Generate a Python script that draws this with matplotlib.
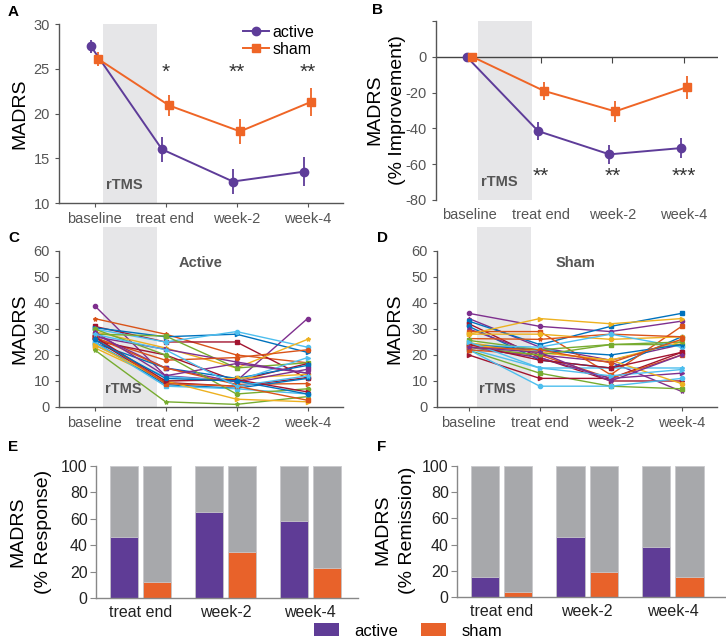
import matplotlib
matplotlib.use("Agg")
import matplotlib.pyplot as plt
from matplotlib.patches import Patch
from matplotlib.lines import Line2D
import numpy as np

plt.rcParams['font.family'] = ['Liberation Sans', 'DejaVu Sans']

# ---------------- data ----------------
timepoints = ["baseline", "treat end", "week-2", "week-4"]

active_mean = [27.5, 16.0, 12.4, 13.5]
active_err = [0.7, 1.4, 1.4, 1.6]
sham_mean = [26.1, 20.9, 18.0, 21.3]
sham_err = [0.8, 1.2, 1.4, 1.6]
stars_A = ["", "*", "**", "**"]

active_pct = [0, -41.5, -54.5, -51.0]
active_pct_err = [0, 5.0, 5.5, 5.5]
sham_pct = [0, -19.0, -30.5, -17.0]
sham_pct_err = [0, 5.0, 6.0, 6.5]
stars_B = ["", "**", "**", "***"]

active_subjects = [
    [39, 12, 10, 34], [34, 28, 20, 17], [31, 25, 25, 11], [30.5, 27, 28, 21],
    [30, 25, 29, 23], [29, 22.7, 15, 26], [28, 27.3, 15, 17], [27, 22.2, 17.3, 13],
    [26.5, 18, 19, 22], [25.5, 20, 10, 16.7], [24.6, 15, 11, 16], [23.7, 11.7, 10, 19],
    [22.8, 10, 11, 12.6], [22, 2, 1, 4], [28, 15, 9.6, 14.5], [27, 15, 8.7, 9],
    [26, 9.4, 8, 11.3], [25, 8.6, 7.2, 11], [25, 8, 7, 5], [24, 10, 3, 2],
    [30, 20, 5, 7], [29, 12, 16.7, 13], [27, 9, 8, 2.6], [27, 10, 10.5, 5.8],
    [26, 11, 10, 5], [28, 22, 8, 12],
]
sham_subjects = [
    [36, 31, 29, 33], [34, 23, 18, 24], [33, 24, 31, 36], [32, 19, 10, 10],
    [31, 18, 15, 27], [30, 20, 17.3, 6], [29, 29, 12.4, 31], [28, 34, 32, 34],
    [28, 28, 26, 27], [26.3, 26, 28, 27], [25.6, 22, 24, 24], [24.7, 21, 18, 25],
    [23.7, 23, 28, 23], [22.4, 15, 15, 15], [21.8, 13, 8, 7], [20, 11, 11, 21],
    [22, 8, 8, 11], [24, 21.8, 20, 24], [22, 20, 11, 20], [23, 19, 11, 13],
    [24, 21, 18, 9], [23, 20, 24, 25], [24, 18, 15, 21], [25, 15, 12, 14.4],
    [23, 22, 17, 26], [23, 21, 10, 20],
]

bar_groups = ["treat end", "week-2", "week-4"]
response_active = [46, 65, 58]
response_sham = [12, 35, 23]
remission_active = [15, 46, 38]
remission_sham = [4, 19, 15]

# ---------------- styles ----------------
PURPLE = "#5e3c99"
ORANGE = "#ef6526"
BAR_PURPLE = "#5f3c96"
BAR_ORANGE = "#e8622a"
BAR_GRAY = "#a7a8ab"
SHADE = "#e6e6e8"
SPINE = "#555555"
TICKC = "#555555"
colors_active = ["#7E2F8E", "#D95319", "#A2142F", "#0072BD", "#4DBEEE", "#EDB120", "#77AC30"]
colors_sham = ["#7E2F8E", "#7E2F8E", "#0072BD", "#A2142F", "#0072BD", "#7E2F8E", "#D95319",
               "#EDB120", "#EDB120", "#D95319", "#77AC30", "#EDB120", "#4DBEEE"]
colors_sham = colors_sham + ["#4DBEEE", "#77AC30", "#A2142F", "#4DBEEE", "#0072BD",
                             "#D95319", "#7E2F8E", "#EDB120", "#77AC30", "#A2142F",
                             "#4DBEEE", "#D95319", "#7E2F8E"]
markers = ["o", "*", "s", ">"]

W, H = 726, 641
fig = plt.figure(figsize=(W / 100, H / 100), dpi=100)


def rect(l, t, r, b):
    return [l / W, 1 - b / H, (r - l) / W, (b - t) / H]


def style_line_axes(ax, tickcolor=TICKC, fs=10.5):
    for s in ["top", "right"]:
        ax.spines[s].set_visible(False)
    for s in ["left", "bottom"]:
        ax.spines[s].set_color(SPINE)
        ax.spines[s].set_linewidth(1.0)
    ax.tick_params(axis="both", colors=SPINE, labelcolor=tickcolor, labelsize=fs,
                   direction="out", length=3, width=0.8)


x = np.arange(len(timepoints))
shade = (0.12, 0.88)

# ---------------- A ----------------
axA = fig.add_axes(rect(59, 24, 343, 203))
axA.axvspan(*shade, color=SHADE, lw=0, zorder=0)
axA.errorbar(x - 0.05, active_mean, yerr=active_err, color=PURPLE, marker="o", ms=6,
             lw=1.4, elinewidth=1.3, capsize=0, zorder=3)
axA.errorbar(x + 0.05, sham_mean, yerr=sham_err, color=ORANGE, marker="s", ms=5.5,
             lw=1.4, elinewidth=1.3, capsize=0, zorder=3)
for xi, s in zip(x, stars_A):
    if s:
        axA.text(xi, 24.6, s, ha="center", va="center", fontsize=15, color="#333333")
axA.text(0.42, 12.0, "rTMS", ha="center", va="center", fontsize=10.5,
         fontweight="bold", color="#555555")
axA.set_xlim(-0.5, 3.5)
axA.set_ylim(10, 30)
axA.set_yticks([10, 15, 20, 25, 30])
axA.set_xticks(x)
axA.set_xticklabels(timepoints)
style_line_axes(axA)
handles = [Line2D([], [], color=PURPLE, marker="o", ms=6, lw=1.4),
           Line2D([], [], color=ORANGE, marker="s", ms=5.5, lw=1.4)]
axA.legend(handles, ["active", "sham"], loc="upper left", bbox_to_anchor=(0.625, 1.03),
           frameon=False, fontsize=11.5, handlelength=1.65, handletextpad=0.2,
           labelspacing=0.1, borderaxespad=0)
fig.text(20 / W, 1 - 114 / H, "MADRS", rotation=90, ha="center", va="center", fontsize=14)

# ---------------- B ----------------
axB = fig.add_axes(rect(436, 21, 718, 200))
axB.axvspan(*shade, color=SHADE, lw=0, zorder=0)
axB.axhline(0, color="#444444", lw=1.0, zorder=1)
axB.plot(x[1:], np.zeros(len(x) - 1), ls="none", marker=3, ms=4, mew=0.8,
         color="#444444", zorder=1)
axB.errorbar(x - 0.04, active_pct, yerr=active_pct_err, color=PURPLE, marker="o", ms=6,
             lw=1.4, elinewidth=1.3, capsize=0, zorder=3)
axB.errorbar(x + 0.04, sham_pct, yerr=sham_pct_err, color=ORANGE, marker="s", ms=5.5,
             lw=1.4, elinewidth=1.3, capsize=0, zorder=3)
for xi, s in zip(x, stars_B):
    if s:
        axB.text(xi, -67, s, ha="center", va="center", fontsize=15, color="#333333")
axB.text(0.42, -70, "rTMS", ha="center", va="center", fontsize=10.5,
         fontweight="bold", color="#555555")
axB.set_xlim(-0.47, 3.48)
axB.set_ylim(-80, 20)
axB.set_yticks([-80, -60, -40, -20, 0, 20])
axB.set_yticklabels(["-80", "-60", "-40", "-20", "0", ""])
axB.set_xticks(x)
axB.set_xticklabels(timepoints)
style_line_axes(axB)
axB.spines["bottom"].set_visible(False)
axB.tick_params(axis="x", length=0, pad=6)
fig.text(375 / W, 1 - 110 / H, "MADRS", rotation=90, ha="center", va="center", fontsize=14)
fig.text(397 / W, 1 - 110 / H, "(% Improvement)", rotation=90, ha="center", va="center",
         fontsize=14)


# ---------------- C / D ----------------
def spaghetti(ax, subjects, cols, title, xlim):
    ax.axvspan(*shade, color=SHADE, lw=0, zorder=0)
    for i, subj in enumerate(subjects):
        ax.plot(x, subj, color=cols[i % len(cols)], marker=markers[i % 4], ms=3,
                lw=1.0, zorder=2)
    ax.text(1.5, 55.5, title, ha="center", va="center", fontsize=10.5,
            fontweight="bold", color="#555555")
    ax.text(0.40, 7, "rTMS", ha="center", va="center", fontsize=10.5,
            fontweight="bold", color="#555555")
    ax.set_xlim(*xlim)
    ax.set_ylim(0, 69.2)
    ax.set_yticks(range(0, 61, 10))
    ax.set_xticks(x)
    ax.set_xticklabels(timepoints)
    style_line_axes(ax)
    ax.spines["left"].set_bounds(0, 60)


axC = fig.add_axes(rect(59, 227, 343, 407))
spaghetti(axC, active_subjects, colors_active, "Active", (-0.5, 3.5))
fig.text(20 / W, 1 - 329 / H, "MADRS", rotation=90, ha="center", va="center", fontsize=14)

axD = fig.add_axes(rect(437, 227, 717, 407))
spaghetti(axD, sham_subjects, colors_sham, "Sham", (-0.45, 3.5))
fig.text(395 / W, 1 - 329 / H, "MADRS", rotation=90, ha="center", va="center", fontsize=14)


# ---------------- E / F ----------------
def bars(ax, act, sh, xlim):
    g = np.arange(len(bar_groups))
    off, w = 0.195, 0.33
    for pos, vals, col in [(g - off, act, BAR_PURPLE), (g + off, sh, BAR_ORANGE)]:
        ax.bar(pos, [100] * len(vals), width=w, color=BAR_GRAY, edgecolor="#c9c9cc",
               linewidth=0.6, zorder=1)
        ax.bar(pos, vals, width=w, color=col, edgecolor="#c9c9cc", linewidth=0.6, zorder=2)
    ax.set_xlim(*xlim)
    ax.set_ylim(0, 100)
    ax.set_yticks(range(0, 101, 20))
    ax.set_xticks(g)
    ax.set_xticklabels(bar_groups)
    for s in ["top", "right"]:
        ax.spines[s].set_visible(False)
    for s in ["left", "bottom"]:
        ax.spines[s].set_color("#888888")
        ax.spines[s].set_linewidth(1.0)
    ax.tick_params(axis="y", colors="#888888", labelcolor="#222222", labelsize=11.5,
                   length=4, width=0.8, pad=2)
    ax.tick_params(axis="x", length=0, labelcolor="#222222", labelsize=11.5, pad=5)


axE = fig.add_axes(rect(96, 466, 358, 598))
bars(axE, response_active, response_sham, (-0.52, 2.56))
fig.text(18 / W, 1 - 532 / H, "MADRS", rotation=90, ha="center", va="center", fontsize=14)
fig.text(43 / W, 1 - 532 / H, "(% Response)", rotation=90, ha="center", va="center",
         fontsize=14)

axF = fig.add_axes(rect(457, 466, 725, 597))
bars(axF, remission_active, remission_sham, (-0.52, 2.61))
fig.text(383 / W, 1 - 530 / H, "MADRS", rotation=90, ha="center", va="center", fontsize=14)
fig.text(408 / W, 1 - 530 / H, "(% Remission)", rotation=90, ha="center", va="center",
         fontsize=14)

fig.legend(handles=[Patch(facecolor=BAR_PURPLE), Patch(facecolor=BAR_ORANGE)],
           labels=["active", "sham"], ncol=2, loc="center",
           bbox_to_anchor=(408 / W, 1 - 631 / H), frameon=False, fontsize=12,
           handlelength=1.5, handleheight=0.8, handletextpad=0.9, columnspacing=1.4,
           borderpad=0)

# ---------------- panel letters ----------------
for lab, (px, py) in {"A": (8, 12), "B": (372, 10), "C": (8, 238), "D": (377, 238),
                      "E": (8, 447), "F": (377, 447)}.items():
    fig.text(px / W, 1 - py / H, lab, ha="left", va="center", fontsize=11,
             fontweight="bold")

fig.savefig("out.png", dpi=100)
